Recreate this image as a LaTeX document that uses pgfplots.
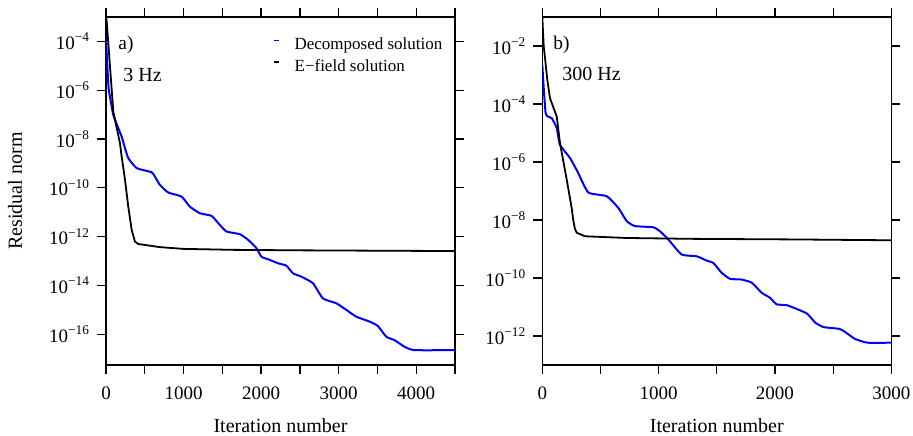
\documentclass[border=0pt]{standalone}
\usepackage{fontspec}
\setmainfont{Liberation Serif}
\usepackage{pgfplots}
\pgfplotsset{compat=1.18}

\pgfplotsset{
 every axis/.append style={
  scale only axis, width=174.5pt, height=174pt,
  axis line style={line width=0.65pt},
  every tick/.style={line width=0.65pt, black},
  tick align=outside, tick pos=both,
  major tick length=4.5pt, minor tick length=4.5pt,
  yminorticks=false,
  tick label style={font=\fontsize{9.5}{11}\selectfont},
  xticklabel style={yshift=-3pt},
 },
}
\tikzset{
 blueline/.style={color={rgb,255:red,0;green,0;blue,255}, line width=1pt, line join=round, smooth, tension=0.3},
 blackline/.style={black, line width=0.9pt, line join=round},
}

\begin{document}
\begin{tikzpicture}
\useasboundingbox (-53pt,-35pt) rectangle (403.5pt,182.5pt);

% ---------------- panel a ----------------
\begin{axis}[ymode=log,
  at={(0pt,0pt)}, anchor=south west,
  xmin=0, xmax=4500, ymin=5.5e-18, ymax=1e-3,
  xtick={0,1000,2000,3000,4000}, xticklabels={0,1000,2000,3000,4000},
  minor xtick={500,1500,2500,3500,4500},
  ytick={1e-16,1e-14,1e-12,1e-10,1e-8,1e-6,1e-4},
  yticklabels={10\textsuperscript{−16},10\textsuperscript{−14},10\textsuperscript{−12},10\textsuperscript{−10},10\textsuperscript{−8},10\textsuperscript{−6},10\textsuperscript{−4}},
  legend cell align=left,
  legend style={at={(rel axis cs:0.478,0.94)}, anchor=north west, draw=none, fill=none,
    inner sep=0pt, outer sep=0pt, row sep=3.3pt,
    /tikz/every odd column/.style={column sep=7.6pt},
    nodes={inner sep=0pt, outer sep=0pt, text height=6pt, text depth=1.5pt, font=\fontsize{8.5}{10}\selectfont},
    font=\fontsize{8.5}{10}\selectfont},
  legend image code/.code={\draw[#1, line width=0.8pt, sharp plot] (0pt,2.4pt) -- (2.5pt,2.4pt);},
]
\addplot[blueline] coordinates {
(0,1.38e-4) (30,1.66e-6) (51,5.50e-7) (94,9.77e-8) (158,2.82e-8) (202,1.26e-8)
(245,4.27e-9) (287,1.66e-9) (395,6.46e-10) (588,4.37e-10) (631,2.88e-10) (695,1.32e-10)
(802,6.46e-11) (975,4.37e-11) (1081,1.70e-11) (1210,9.12e-12) (1361,7.08e-12) (1468,3.02e-12)
(1554,1.62e-12) (1725,1.26e-12) (1832,7.41e-13) (1940,3.39e-13) (2004,1.51e-13) (2111,1.12e-13)
(2218,8.13e-14) (2326,6.46e-14) (2411,3.16e-14) (2519,2.29e-14) (2669,1.23e-14) (2797,2.95e-15)
(2970,1.86e-15) (3099,1.0e-15) (3227,5.25e-16) (3399,3.31e-16) (3505,2.19e-16) (3614,7.94e-17)
(3720,5.75e-17) (3849,3.09e-17) (3978,2.24e-17) (4500,2.24e-17)
};
\addlegendentry{Decomposed solution}
\addplot[blackline] coordinates {
(0,1e-3) (9,6.61e-4) (94,1.35e-7) (180,6.76e-9) (202,1.91e-9) (245,2.14e-10)
(287,1.70e-11) (331,1.91e-12) (373,6.31e-13) (416,5.01e-13) (695,3.72e-13) (995,3.16e-13)
(1639,2.88e-13) (2497,2.75e-13) (4500,2.57e-13)
};
\addlegendentry{E−field solution}
\node[anchor=base west, inner sep=0pt, font=\fontsize{9.7}{11}\selectfont] at (rel axis cs:0.0344,0.906) {a)};
\node[anchor=base west, inner sep=0pt, font=\fontsize{10}{12}\selectfont] at (rel axis cs:0.0487,0.814) {3 Hz};
\end{axis}

% ---------------- panel b ----------------
\begin{axis}[ymode=log,
  at={(218.15pt,0pt)}, anchor=south west,
  xmin=0, xmax=3000, ymin=1e-13, ymax=1e-1,
  xtick={0,1000,2000,3000}, xticklabels={0,1000,2000,3000},
  minor xtick={500,1500,2500},
  ytick={1e-12,1e-10,1e-8,1e-6,1e-4,1e-2},
  yticklabels={10\textsuperscript{−12},10\textsuperscript{−10},10\textsuperscript{−8},10\textsuperscript{−6},10\textsuperscript{−4},10\textsuperscript{−2}},
]
\addplot[blueline] coordinates {
(0,2.24e-3) (29,4.79e-5) (81,3.24e-5) (124,1.48e-5) (152,3.89e-6) (238,1.38e-6)
(309,4.17e-7) (395,8.91e-8) (554,6.61e-8) (653,2.63e-8) (726,9.12e-9) (797,6.17e-9)
(954,5.62e-9) (1012,4.07e-9) (1083,2.14e-9) (1198,6.46e-10) (1327,5.62e-10) (1413,3.98e-10)
(1470,3.31e-10) (1542,1.51e-10) (1614,9.33e-11) (1708,8.91e-11) (1800,6.92e-11) (1886,3.09e-11)
(1957,2.09e-11) (2015,1.23e-11) (2104,1.15e-11) (2273,6.03e-12) (2344,2.95e-12) (2416,2.04e-12)
(2559,1.74e-12) (2630,1.15e-12) (2688,7.94e-13) (2795,5.89e-13) (3000,5.89e-13)
};
\addplot[blackline] coordinates {
(0,1e-1) (12,1e-2) (23,3.98e-3) (43,6.76e-4) (66,1.58e-4) (124,3.72e-5)
(152,4.47e-6) (210,2.45e-7) (253,2.51e-8) (266,1e-8) (280,5.01e-9) (296,3.63e-9)
(367,2.75e-9) (726,2.40e-9) (1298,2.24e-9) (2158,2.14e-9) (3000,2.00e-9)
};
\node[anchor=base west, inner sep=0pt, font=\fontsize{9.7}{11}\selectfont] at (rel axis cs:0.0307,0.906) {b)};
\node[anchor=base west, inner sep=0pt, font=\fontsize{10}{12}\selectfont] at (rel axis cs:0.0564,0.817) {300 Hz};
\end{axis}

% axis labels
\node[rotate=90, font=\fontsize{10}{12}\selectfont] at (-45.5pt,87pt) {Residual norm};
\node[anchor=base, font=\fontsize{10}{12}\selectfont] at (87.25pt,-33.5pt) {Iteration number};
\node[anchor=base, font=\fontsize{10}{12}\selectfont] at (305.4pt,-33.5pt) {Iteration number};
\end{tikzpicture}
\end{document}
